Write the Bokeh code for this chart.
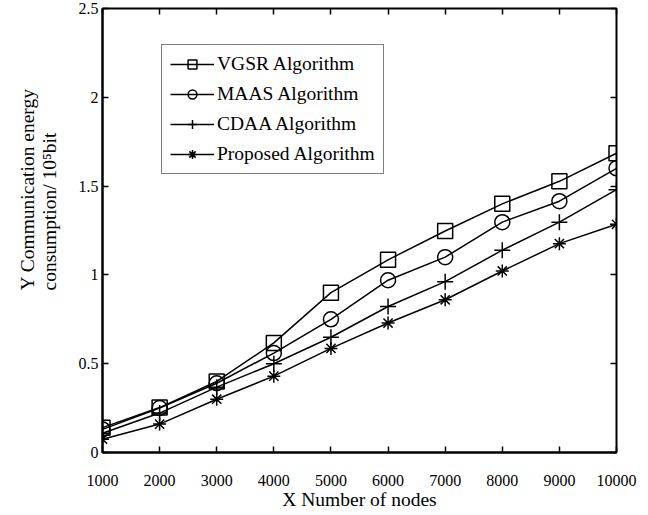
from bokeh.plotting import figure
from bokeh.models import (LinearAxis, FixedTicker, Legend, LegendItem, Title, Range1d)
from bokeh.embed import file_html
from bokeh.resources import INLINE

# ---- data ----
nodes = [1000, 2000, 3000, 4000, 5000, 6000, 7000, 8000, 9000, 10000]
vgsr = [0.14, 0.253, 0.40, 0.617, 0.90, 1.085, 1.247, 1.40, 1.527, 1.685]
maas = [0.13, 0.25, 0.39, 0.56, 0.75, 0.97, 1.10, 1.297, 1.415, 1.60]
cdaa = [0.108, 0.222, 0.368, 0.50, 0.649, 0.822, 0.962, 1.139, 1.297, 1.48]
proposed = [0.075, 0.16, 0.30, 0.43, 0.586, 0.729, 0.86, 1.022, 1.176, 1.285]

series_names = ["VGSR Algorithm", "MAAS Algorithm", "CDAA Algorithm", "Proposed Algorithm"]
series_values = [vgsr, maas, cdaa, proposed]
series_markers = ["square", "circle", "cross", "asterisk"]
series_sizes = [15, 15, 16, 13]

x_ticks = [1000, 2000, 3000, 4000, 5000, 6000, 7000, 8000, 9000, 10000]
y_ticks = [0, 0.5, 1, 1.5, 2, 2.5]
y_tick_labels = ["0", "0.5", "1", "1.5", "2", "2.5"]

x_title = "X Number of nodes"
y_title_lines = ["Y Communication energy", "consumption/ 10\u2075bit"]

FONT = "Liberation Serif"

p = figure(width=648, height=515, output_backend="svg", toolbar_location=None,
           x_range=Range1d(1000, 10000), y_range=Range1d(0, 2.5),
           min_border_left=101, min_border_right=32, min_border_top=8,
           min_border_bottom=63)
p.background_fill_color = "white"
p.border_fill_color = "white"
p.grid.visible = False
p.outline_line_color = "black"
p.outline_line_width = 2

for ax in p.xaxis:
    ax.ticker = FixedTicker(ticks=x_ticks)
    ax.major_tick_in = 6
    ax.major_tick_out = 0
    ax.minor_tick_line_color = None
    ax.axis_line_width = 2
    ax.major_tick_line_width = 1.5
    ax.major_label_text_font = FONT
    ax.major_label_text_font_size = "16px"
    ax.major_label_text_color = "black"
    ax.major_label_standoff = 22
    ax.axis_label = x_title
    ax.axis_label_text_font = FONT
    ax.axis_label_text_font_size = "19.5px"
    ax.axis_label_text_font_style = "normal"
    ax.axis_label_text_color = "black"
    ax.axis_label_standoff = 0

for ax in p.yaxis:
    ax.ticker = FixedTicker(ticks=y_ticks)
    ax.major_label_overrides = {t: l for t, l in zip(y_ticks, y_tick_labels)}
    ax.major_tick_in = 6
    ax.major_tick_out = 0
    ax.minor_tick_line_color = None
    ax.axis_line_width = 2
    ax.major_tick_line_width = 1.5
    ax.major_label_text_font = FONT
    ax.major_label_text_font_size = "16px"
    ax.major_label_text_color = "black"
    ax.major_label_standoff = 4

# mirrored inward ticks on top and right (no labels)
top = LinearAxis(ticker=FixedTicker(ticks=x_ticks), major_tick_in=6, major_tick_out=0,
                 minor_tick_line_color=None, axis_line_color=None,
                 major_tick_line_width=1.5, major_label_text_color=None,
                 major_label_text_font_size="1px", major_label_standoff=0)
right = LinearAxis(ticker=FixedTicker(ticks=y_ticks), major_tick_in=6, major_tick_out=0,
                   minor_tick_line_color=None, axis_line_color=None,
                   major_tick_line_width=1.5, major_label_text_color=None,
                   major_label_text_font_size="1px", major_label_standoff=0)
p.add_layout(top, "above")
p.add_layout(right, "right")

items = []
for name, vals, mk, sz in zip(series_names, series_values, series_markers, series_sizes):
    ln = p.line(nodes, vals, line_color="black", line_width=1.5)
    sc = p.scatter(nodes, vals, marker=mk, size=sz, line_color="black",
                   line_width=1.5, fill_alpha=0)
    items.append(LegendItem(label=name, renderers=[ln, sc]))

legend = Legend(items=items, location=(59, 278),
                label_text_font=FONT, label_text_font_size="19.5px",
                label_text_color="black",
                glyph_width=44, glyph_height=22, label_height=22,
                label_standoff=3, spacing=8, padding=8,
                border_line_color="black", border_line_width=1.5,
                background_fill_color="white", background_fill_alpha=1,
                margin=0)
p.add_layout(legend, "center")

# two-line y title (start-aligned, as in the reference)
ytitle = Title(text="\n".join(y_title_lines), align="left", offset=162, standoff=30,
               text_font=FONT, text_font_size="19.5px", text_font_style="normal",
               text_line_height=1.05, text_color="black")
p.add_layout(ytitle, "left")

open("out.html", "w").write(file_html(p, INLINE))
